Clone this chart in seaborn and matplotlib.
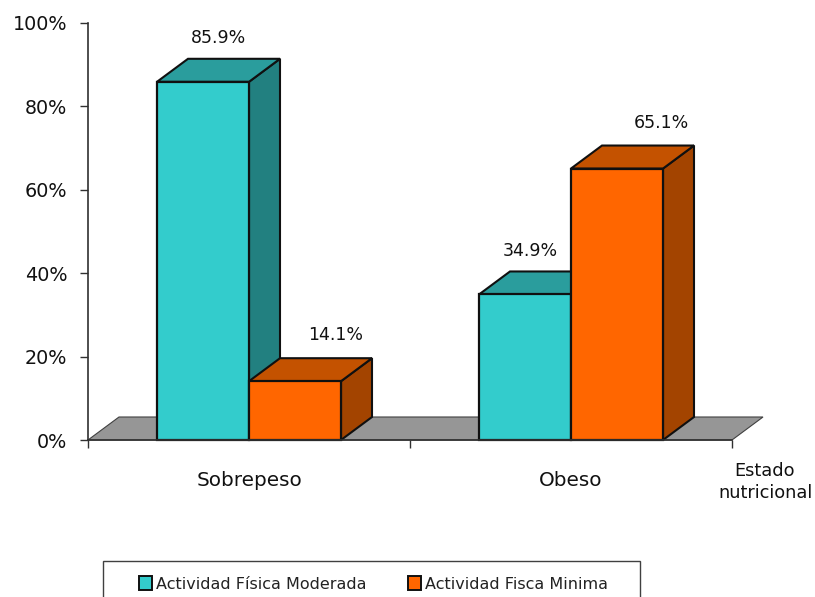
import matplotlib
matplotlib.use("Agg")
import matplotlib.pyplot as plt
from matplotlib.patches import Polygon, Patch, Rectangle
import pandas as pd
import seaborn as sns

categories = ["Sobrepeso", "Obeso"]
series_names = ["Actividad Física Moderada", "Actividad Fisca Minima"]
moderada = [85.9, 34.9]
minima = [14.1, 65.1]
y_ticks = [0, 20, 40, 60, 80, 100]
axis_title = "Estado\nnutricional"

front_colors = ["#33CCCC", "#FF6600"]
top_colors = ["#2A9D9D", "#C45200"]
side_colors = ["#228080", "#A34400"]
floor_color = "#969696"
label_offsets_px = [(15, 44), (41, 46), (5, 43), (44, 46)]

W, H = 815, 597
sns.set_style("white")
plt.rcParams["font.family"] = ["DejaVu Sans"]
fig = plt.figure(figsize=(W / 100, H / 100), dpi=100)
ax = fig.add_axes([88 / W, 1 - 440 / H, (732 - 88) / W, (440 - 23) / H])

df = pd.DataFrame({
    "cat": categories * 2,
    "serie": [series_names[0]] * 2 + [series_names[1]] * 2,
    "val": moderada + minima,
})
sns.barplot(data=df, x="cat", y="val", hue="serie", order=categories,
            hue_order=series_names, palette=front_colors, width=184 / 322,
            gap=0, saturation=1, legend=False, edgecolor="#101010",
            linewidth=1.6, ax=ax)
ax.set_xlim(-0.5, 1.5)
ax.set_ylim(0, 100)

dx = 31 / 322
dy = 23 / (417 / 100)
EDGE = dict(edgecolor="#101010", linewidth=1.5, clip_on=False)

floor = Polygon([(-0.5, 0), (1.5, 0), (1.5 + dx, dy), (-0.5 + dx, dy)],
                facecolor=floor_color, edgecolor="#404040", linewidth=0.8,
                clip_on=False, zorder=1)
ax.add_patch(floor)

labels = []
for s, container in enumerate(ax.containers):
    base = 2 + 3 * s
    for bar in container:
        x0, w, h = bar.get_x(), bar.get_width(), bar.get_height()
        x1 = x0 + w
        bar.set_zorder(base + 2)
        bar.set_clip_on(False)
        ax.add_patch(Polygon([(x0, h), (x1, h), (x1 + dx, h + dy), (x0 + dx, h + dy)],
                             facecolor=top_colors[s], zorder=base + 1, **EDGE))
        ax.add_patch(Polygon([(x1, 0), (x1 + dx, dy), (x1 + dx, h + dy), (x1, h)],
                             facecolor=side_colors[s], zorder=base, **EDGE))
        labels.append((x0 + w / 2, h))

order = [labels[0], labels[2], labels[1], labels[3]]
for (x, h), (ox, oy) in zip(order, label_offsets_px):
    ax.annotate(f"{h:.1f}%", xy=(x, h), xytext=(ox * 0.72, oy * 0.72),
                textcoords="offset points", ha="center", va="center",
                fontsize=12.5, color="#111111", zorder=20)

sns.despine(ax=ax)
for side in ("left", "bottom"):
    ax.spines[side].set_color("#303030")
    ax.spines[side].set_linewidth(1.2)
    ax.spines[side].set_zorder(15)

ax.set_yticks(y_ticks)
ax.set_yticklabels([f"{v}%" for v in y_ticks], fontsize=13.8, color="#111111")
ax.tick_params(axis="y", left=True, length=6, width=1, color="#303030", pad=9)
ax.set_xticks([0, 1])
ax.set_xticklabels(categories, fontsize=14.4, color="#111111")
ax.tick_params(axis="x", which="major", bottom=False, pad=19)
ax.set_xticks([-0.5, 0.5, 1.5], minor=True)
ax.tick_params(axis="x", which="minor", bottom=True, length=6, width=1, color="#303030")
ax.set_xlabel("")
ax.set_ylabel("")
ax.text((765 - 88) / (732 - 88), (440 - 482) / 417, axis_title, transform=ax.transAxes,
        ha="center", va="center", fontsize=12.8, linespacing=1.25, color="#111111")

fig.add_artist(Rectangle((103 / W, -10 / H), (640 - 103) / W, (597 + 10 - 561) / H,
                         transform=fig.transFigure, facecolor="white",
                         edgecolor="#404040", linewidth=1))
handles = [Patch(facecolor=c, edgecolor="#101010", linewidth=1.4) for c in front_colors]
leg = fig.legend(handles, series_names, ncols=2, loc="center left",
                 bbox_to_anchor=(139 / W, 1 - 584 / H), borderaxespad=0,
                 fontsize=11.5, frameon=False, borderpad=0,
                 handlelength=0.8, handleheight=0.9, handletextpad=0.25,
                 columnspacing=2.6, labelcolor="#222222")

fig.savefig("out.png", dpi=100)
